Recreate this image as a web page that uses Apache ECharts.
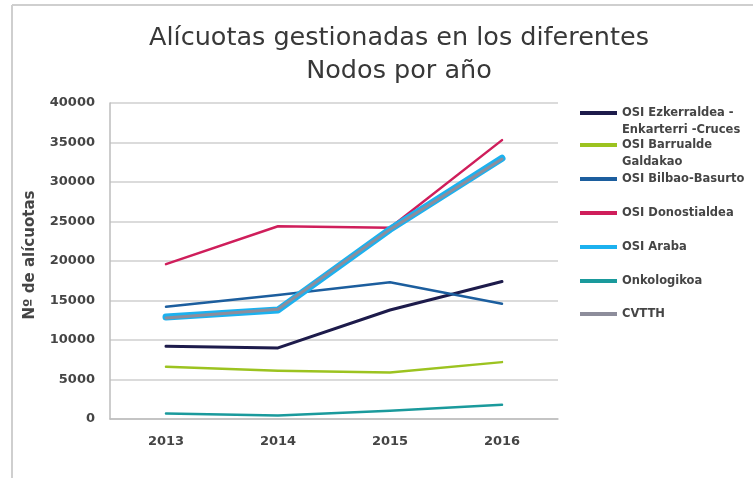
<!DOCTYPE html>
<html>
<head>
<meta charset="utf-8">
<script src="https://cdn.jsdelivr.net/npm/echarts@6/dist/echarts.min.js"></script>
<style>
  html, body { margin: 0; padding: 0; background: #fff; }
  #chart { width: 753px; height: 478px; }
</style>
</head>
<body>
<div id="chart"></div>
<script>
// Years on the category axis
const years = ['2013', '2014', '2015', '2016'];

// Aliquots managed per node and year
const ezkerraldea = [9200, 9000, 13800, 17400];
const barrualde = [6600, 6100, 5900, 7200];
const bilbaoBasurto = [14200, 15700, 17300, 14600];
const donostialdea = [19600, 24400, 24200, 35300];
const araba = [12900, 13800, 24000, 33000];
const onkologikoa = [700, 450, 1050, 1800];
const cvtth = [12800, 13900, 24000, 32900];

// Value axis ticks
const yMin = 0, yMax = 40000, yStep = 5000;

const seriesNames = [
  'OSI Ezkerraldea - Enkarterri -Cruces',
  'OSI Barrualde Galdakao',
  'OSI Bilbao-Basurto',
  'OSI Donostialdea',
  'OSI Araba',
  'Onkologikoa',
  'CVTTH'
];
// Legend label lines (two-line entries wrap like the original box)
const legendLines = {
  'OSI Ezkerraldea - Enkarterri -Cruces': ['OSI Ezkerraldea -', 'Enkarterri -Cruces'],
  'OSI Barrualde Galdakao': ['OSI Barrualde', 'Galdakao']
};
const seriesData = [ezkerraldea, barrualde, bilbaoBasurto, donostialdea, araba, onkologikoa, cvtth];
const colors = ['#1d1b4b', '#9cc320', '#1c5e9e', '#cf1e5b', '#1cb1ef', '#1a9a9c', '#8d8d9b'];
const widths = [3, 2.5, 2.5, 2.5, 7, 2.5, 3];

const labelFont = 'DejaVu Sans';
const textColor = '#454545';

// One legend block per entry so each row sits at its own height
const legendCenters = [113, 145, 179, 213, 247, 281, 314];
const legends = seriesNames.map((name, i) => {
  const twoLine = !!legendLines[name];
  return {
    data: [name],
    orient: 'vertical',
    left: 580,
    top: legendCenters[i] - (twoLine ? 25.5 : 8.5),
    padding: 0,
    icon: 'rect',
    itemWidth: 37,
    itemHeight: 4,
    selectedMode: false,
    formatter: n => legendLines[n] ? '\n' + legendLines[n].join('\n') : n,
    textStyle: {
      fontFamily: labelFont,
      fontWeight: 'bold',
      fontSize: 11.5,
      lineHeight: 17,
      color: textColor
    }
  };
});

const chart = echarts.init(document.getElementById('chart'), null, { renderer: 'canvas' });
chart.setOption({
  animation: false,
  backgroundColor: '#ffffff',
  title: {
    text: 'Alícuotas gestionadas en los diferentes\nNodos por año',
    left: 394,
    textAlign: 'center',
    top: 17,
    textStyle: {
      fontFamily: labelFont,
      fontWeight: 'normal',
      fontSize: 25.5,
      lineHeight: 33,
      color: '#383838'
    }
  },
  legend: legends,
  grid: { left: 110, right: 195, top: 103, bottom: 59, containLabel: false },
  xAxis: {
    type: 'category',
    data: years,
    boundaryGap: true,
    axisTick: { show: false },
    axisLine: { show: true, lineStyle: { color: '#bdbdbd', width: 1.5 } },
    axisLabel: {
      margin: 16,
      fontFamily: labelFont,
      fontWeight: 'bold',
      fontSize: 13,
      color: textColor
    }
  },
  yAxis: {
    type: 'value',
    min: yMin,
    max: yMax,
    interval: yStep,
    name: 'Nº de alícuotas',
    nameLocation: 'middle',
    nameRotate: 90,
    nameGap: 72,
    nameTextStyle: {
      fontFamily: labelFont,
      fontWeight: 'bold',
      fontSize: 15,
      color: textColor,
      padding: [0, 0, 0, 12]
    },
    axisLine: { show: true, lineStyle: { color: '#bdbdbd', width: 1.5 } },
    axisTick: { show: false },
    splitLine: { lineStyle: { color: '#cfcfcf', width: 1.5 } },
    axisLabel: {
      margin: 15,
      formatter: v => String(v),
      fontFamily: labelFont,
      fontWeight: 'bold',
      fontSize: 13,
      color: textColor
    }
  },
  series: seriesNames.map((name, i) => ({
    name,
    type: 'line',
    data: seriesData[i],
    showSymbol: false,
    symbol: 'none',
    color: colors[i],
    lineStyle: { color: colors[i], width: widths[i], cap: 'round', join: 'round' },
    z: 2 + i
  })),
  graphic: [
    { type: 'line', shape: { x1: 12, y1: 5, x2: 12, y2: 478 }, style: { stroke: '#cfcfcf', lineWidth: 2 } },
    { type: 'line', shape: { x1: 12, y1: 5, x2: 753, y2: 5 }, style: { stroke: '#cfcfcf', lineWidth: 2 } }
  ]
});
</script>
</body>
</html>
